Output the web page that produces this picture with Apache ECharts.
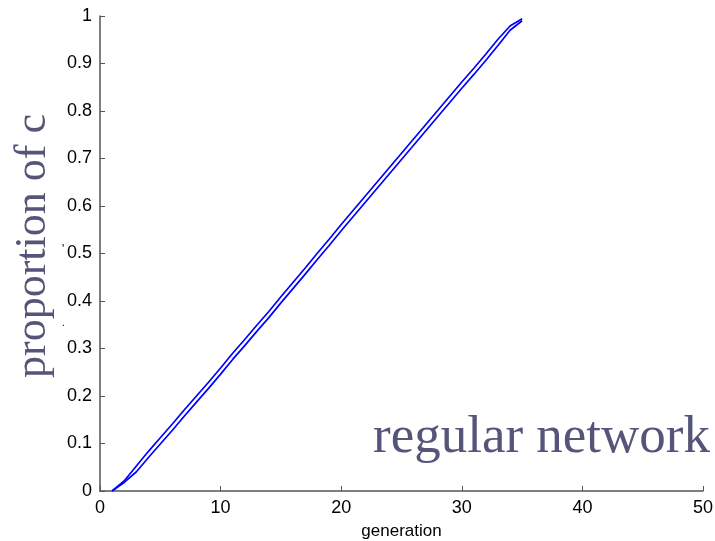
<!DOCTYPE html>
<html><head><meta charset="utf-8">
<script src="https://cdn.jsdelivr.net/npm/echarts@6/dist/echarts.min.js"></script>
<style>html,body{margin:0;padding:0;background:#fff}#c{width:715px;height:541px}</style>
</head><body><div id="c"></div>
<script>
const generations = [1,2,3,4,5,6,7,8,9,10,11,12,13,14,15,16,17,18,19,20,21,22,23,24,25,26,27,28,29,30,31,32,33,34,35];
const runA = [0,0.021,0.052,0.083,0.112,0.141,0.171,0.2,0.229,0.259,0.29,0.319,0.349,0.378,0.409,0.439,0.469,0.5,0.53,0.561,0.591,0.621,0.651,0.681,0.711,0.741,0.771,0.801,0.831,0.861,0.89,0.92,0.951,0.979,0.994];
const runB = [0,0.018,0.04,0.07,0.099,0.128,0.158,0.187,0.216,0.246,0.277,0.306,0.336,0.365,0.396,0.426,0.456,0.487,0.517,0.548,0.578,0.608,0.638,0.668,0.698,0.728,0.758,0.788,0.818,0.848,0.877,0.907,0.938,0.97,0.99];
const xTicks = [0,10,20,30,40,50];
const yTicks = [0,0.1,0.2,0.3,0.4,0.5,0.6,0.7,0.8,0.9,1];

const chart = echarts.init(document.getElementById('c'));
const axisCol = '#555555';
chart.setOption({
  animation:false,
  grid:{left:100,right:12,top:16,bottom:50,containLabel:false,outerBoundsMode:'none'},
  xAxis:{type:'value',min:0,max:50,interval:10,
    name:'generation',nameLocation:'middle',nameGap:32,
    nameTextStyle:{fontFamily:'Liberation Sans',fontSize:17,color:'#000'},
    axisLine:{lineStyle:{color:axisCol,width:1.5}},
    axisTick:{inside:true,length:5,lineStyle:{color:axisCol}},
    axisLabel:{fontFamily:'Liberation Sans',fontSize:18,color:'#000',margin:8},
    splitLine:{show:false}},
  yAxis:{type:'value',min:0,max:1,interval:0.1,
    axisLine:{show:true,lineStyle:{color:axisCol,width:1.5}},
    axisTick:{show:true,inside:true,length:5,lineStyle:{color:axisCol}},
    axisLabel:{fontFamily:'Liberation Sans',fontSize:18,color:'#000',margin:8,
      formatter:v=>{const r=Math.round(v*10)/10; return r===0?'0':(r===1?'1':String(r));}},
    splitLine:{show:false}},
  series:[
    {type:'line',data:generations.map((g,i)=>[g,runA[i]]),showSymbol:false,lineStyle:{color:'#0000ff',width:1.7}},
    {type:'line',data:generations.map((g,i)=>[g,runB[i]]),showSymbol:false,lineStyle:{color:'#0000ff',width:1.7}}
  ],
  graphic:[
    {type:'text',left:373,top:412,style:{text:'regular network',font:'53px "Liberation Serif"',fill:'#55557a'}},
    {type:'text',x:33,y:246,rotation:Math.PI/2,style:{text:'proportion of c',font:'44px "Liberation Serif"',fill:'#55557a',align:'center',verticalAlign:'middle'}},
    {type:'text',left:62,top:244,style:{text:"'",font:'12px "Liberation Sans"',fill:'#000'}},
    {type:'text',left:62,top:318,style:{text:".",font:'10px "Liberation Sans"',fill:'#000'}}
  ]
});
</script></body></html>
